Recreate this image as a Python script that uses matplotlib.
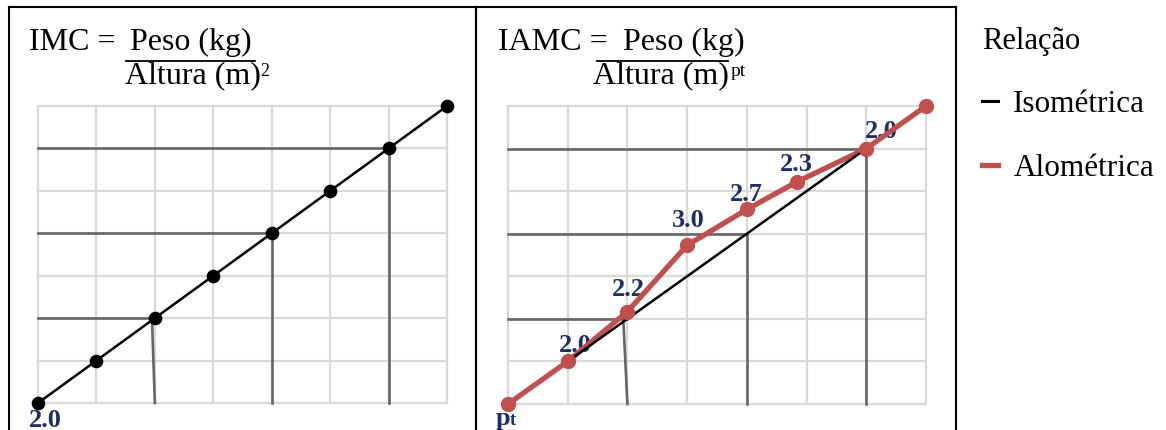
import matplotlib
matplotlib.use("Agg")
import matplotlib.pyplot as plt
from matplotlib.lines import Line2D

# ---------------- data ----------------
grid_ticks = [0, 1, 2, 3, 4, 5, 6, 7]
iso_x = [0, 1, 2, 3, 4, 5, 6, 7]
iso_y = [0, 1, 2, 3, 4, 5, 6, 7]
iso_seg_x = [1, 6]          # isometric reference visible in right panel
iso_seg_y = [1, 6]
alo_x = [0, 1, 2, 3, 4, 4.84, 6, 7]
alo_y = [0, 1, 2.17, 3.73, 4.57, 5.22, 6, 7]
alo_labels = ["2.0", "2.2", "3.0", "2.7", "2.3", "2.0"]   # points 1..6
left_start_label = "2.0"
ref_levels = [2, 4, 6]
ref_top_x_left = [1.95, 4.0, 6.0]
ref_top_x_right = [1.93, 4.0, 6.0]
legend_labels = ["Isométrica", "Alométrica"]

# ---------------- styles ----------------
W, H = 1166, 430
SERIF = ["Liberation Serif", "DejaVu Serif"]
RED = "#c0504d"
NAVY = "#1f2f66"
GRID = "#d9d9d9"
REF = "#666666"
plt.rcParams["font.family"] = SERIF

fig = plt.figure(figsize=(W / 100, H / 100), dpi=100)


def fx(x):
    return x / W


def fy(y):
    return 1 - y / H


def px_axes(x0, x1, ytop, ybot, **kw):
    return fig.add_axes([fx(x0), fy(ybot), (x1 - x0) / W, (ybot - ytop) / H], **kw)


# panel boxes
for (x0, x1) in [(9, 476), (476, 956)]:
    bx = fig.add_axes([fx(x0), -0.2, (x1 - x0) / W, fy(7) + 0.2], zorder=0)
    bx.set_xticks([]); bx.set_yticks([])
    bx.set_facecolor("none")
    for s in bx.spines.values():
        s.set_linewidth(1.5)
        s.set_color("black")


def setup(ax):
    ax.set_xlim(0, 7)
    ax.set_ylim(0, 7)
    ax.set_xticks(grid_ticks)
    ax.set_yticks(grid_ticks)
    ax.tick_params(length=0, labelbottom=False, labelleft=False)
    for s in ax.spines.values():
        s.set_visible(False)
    ax.set_facecolor("none")
    ax.grid(True, color=GRID, lw=1.6)
    ax.set_axisbelow(True)
    for gl in ax.get_xgridlines() + ax.get_ygridlines():
        gl.set_clip_on(False)


# ---------------- left panel ----------------
axL = px_axes(38, 447, 106, 403, zorder=2)
setup(axL)
for lv, tx in zip(ref_levels, ref_top_x_left):
    axL.plot([0, lv], [lv, lv], color=REF, lw=1.9, zorder=2, clip_on=False)
    axL.plot([tx, lv], [lv, 0], color=REF, lw=1.9, zorder=2, clip_on=False)
axL.plot(iso_x, iso_y, color="black", lw=1.8, marker="o", ms=8.8,
         zorder=4, clip_on=False)
axL.annotate(left_start_label, (iso_x[0], iso_y[0]), xytext=(7, -24),
             textcoords="offset pixels", ha="center", va="baseline",
             fontsize=19, fontweight="bold", color=NAVY, annotation_clip=False)

# ---------------- right panel ----------------
axR = px_axes(508, 926, 106, 404, zorder=2)
setup(axR)
for lv, tx in zip(ref_levels, ref_top_x_right):
    axR.plot([0, lv], [lv, lv], color=REF, lw=1.9, zorder=2, clip_on=False)
    axR.plot([tx, lv], [lv, 0], color=REF, lw=1.9, zorder=2, clip_on=False)
axR.plot(alo_x, alo_y, color=RED, lw=3.8, zorder=4, clip_on=False,
         solid_capstyle="round")
axR.plot(iso_seg_x, iso_seg_y, color="black", lw=1.8, zorder=5, clip_on=False)
axR.plot(alo_x, alo_y, color=RED, lw=0, marker="o", ms=10, zorder=6,
         clip_on=False)

lab_offsets = [(8, 9), (1, 16), (1, 18), (-1, 8), (-1, 11), (15, 11)]
for i, (lab, off) in enumerate(zip(alo_labels, lab_offsets), start=1):
    axR.annotate(lab, (alo_x[i], alo_y[i]), xytext=off,
                 textcoords="offset pixels", ha="center", va="baseline",
                 fontsize=19, fontweight="bold", color=NAVY, zorder=3,
                 annotation_clip=False)
axR.annotate("p", (alo_x[0], alo_y[0]), xytext=(-12, -21),
             textcoords="offset pixels", ha="left", va="baseline",
             fontsize=19, fontweight="bold", color=NAVY, annotation_clip=False)
axR.annotate("t", (alo_x[0], alo_y[0]), xytext=(2, -21),
             textcoords="offset pixels", ha="left", va="baseline",
             fontsize=13, fontweight="bold", color=NAVY, annotation_clip=False)

# ---------------- titles (formulas) ----------------
TFS = 23
fig.text(fx(29), fy(50), "IMC =", fontsize=TFS, va="baseline")
fig.text(fx(130), fy(50), "Peso (kg)", fontsize=TFS, va="baseline")
fig.text(fx(125), fy(83), "Altura (m)", fontsize=TFS, va="baseline")
fig.text(fx(260), fy(76), "2", fontsize=13, va="baseline")
fig.add_artist(Line2D([fx(126), fx(255)], [fy(61), fy(61)], color="black",
                      lw=1.3, transform=fig.transFigure))

fig.text(fx(498), fy(50), "IAMC =", fontsize=TFS, va="baseline")
fig.text(fx(623), fy(50), "Peso (kg)", fontsize=TFS, va="baseline")
fig.text(fx(593), fy(83), "Altura (m)", fontsize=TFS, va="baseline")
fig.text(fx(731), fy(76), "pt", fontsize=14, va="baseline")
fig.add_artist(Line2D([fx(597), fx(728)], [fy(61), fy(61)], color="black",
                      lw=1.3, transform=fig.transFigure))

# ---------------- legend ----------------
handles = [Line2D([], [], color="black", lw=2.2),
           Line2D([], [], color=RED, lw=3.8)]
leg = fig.legend(handles, legend_labels, loc="upper left",
                 bbox_to_anchor=(fx(982), fy(27)), frameon=False,
                 title="Relação", alignment="left", fontsize=22.5,
                 title_fontsize=22, handlelength=0.52, handletextpad=0.48,
                 labelspacing=1.1, borderpad=0, borderaxespad=0)

fig.savefig("out.png", dpi=100)
